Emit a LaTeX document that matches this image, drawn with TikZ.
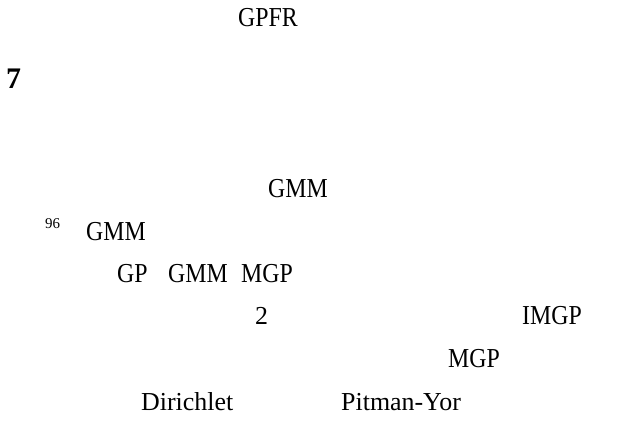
\documentclass[tikz,border=0pt]{standalone}
\usepackage{fontspec}
\setmainfont{Liberation Serif}
\newfontfamily\narrowfont[FakeStretch=0.87]{Liberation Serif}
\tikzset{
  bodytext/.style={anchor=base west, inner sep=0pt, font=\fontsize{26}{30}\selectfont},
  capstext/.style={anchor=base west, inner sep=0pt, font=\fontsize{27.5}{31}\narrowfont},
  headnum/.style={anchor=base west, inner sep=0pt, font=\fontsize{30}{34}\selectfont\bfseries},
  refmark/.style={anchor=base west, inner sep=0pt, font=\fontsize{15}{18}\selectfont}
}

\begin{document}
\begin{tikzpicture}[x=1bp, y=-1bp]
  \useasboundingbox (0,0) rectangle (623,420);
  \node[capstext] (gpfr) at (238,26) {GPFR};
  \node[headnum] (sec) at (6,88) {7};
  % body lines
  \node[capstext] (gmma) at (268,197) {GMM};
  \node[refmark] (cite) at (45,228) {96};
  \node[capstext] (gmmb) at (86,240) {GMM};
  \node[capstext] (gp) at (117,282) {GP};
  \node[capstext] (gmmc) at (168,282) {GMM};
  \node[capstext] (mgpa) at (241,282) {MGP};
  \node[bodytext] (two) at (255,324) {2};
  \node[capstext] (imgp) at (522,324) {IMGP};
  \node[capstext] (mgpb) at (448,367) {MGP};
  \node[bodytext] (dir) at (141,410) {Dirichlet};
  \node[bodytext] (py) at (341,410) {Pitman-Yor};
\end{tikzpicture}
\end{document}
